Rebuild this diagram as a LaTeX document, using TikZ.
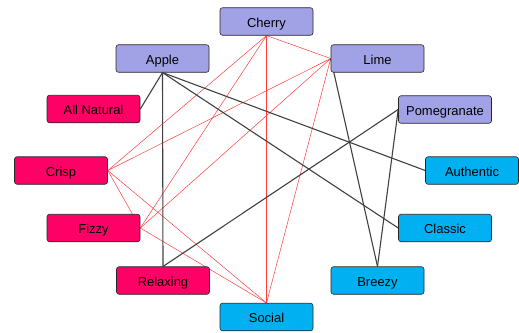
\documentclass[tikz,border=0pt]{standalone}
\usepackage{fontspec}
\setmainfont{Liberation Sans}
\usetikzlibrary{backgrounds}
\begin{document}
\begin{tikzpicture}[x=1bp,y=-1bp,
  box/.style={draw=black!85, line width=0.6bp, rounded corners=2.5bp,
    minimum width=93bp, minimum height=27.5bp, inner sep=0pt,
    text height=11bp, text depth=0bp,
    font=\fontsize{13}{15}\selectfont},
  fruit/.style={box, fill=fruitfill},
  trait/.style={box, fill=traitfill},
  mood/.style={box, fill=moodfill},
  strong/.style={draw=black!75, line width=1.1bp},
  weak/.style={draw=linkred, line width=0.5bp}]
\definecolor{fruitfill}{RGB}{161,161,230}
\definecolor{traitfill}{RGB}{255,0,102}
\definecolor{moodfill}{RGB}{0,176,240}
\definecolor{linkred}{RGB}{255,60,60}
\useasboundingbox (0,0) rectangle (519,332);

% nodes
\node[fruit] (cherry) at (266.5,21.5) {Cherry};
\node[fruit] (apple) at (162.5,58.5) {Apple};
\node[fruit] (lime) at (377.5,58.5) {Lime};
\node[fruit] (pome) at (445,109.5) {Pomegranate};
\node[trait] (natural) at (93.5,109) {All Natural};
\node[mood] (authentic) at (472,170.5) {Authentic};
\node[trait] (crisp) at (61,170.5) {Crisp};
\node[trait] (fizzy) at (93.5,228) {Fizzy};
\node[mood] (classic) at (445,228) {Classic};
\node[trait] (relaxing) at (163,280.5) {Relaxing};
\node[mood] (breezy) at (377.5,280.5) {Breezy};
\node[mood] (social) at (266.5,317) {Social};

% connectors, behind the boxes
\begin{scope}[on background layer]
  \draw[weak] (cherry.south) -- (crisp.east);
  \draw[weak] (cherry.south) -- (fizzy.east);
  \draw[weak] (cherry.south) -- (social.north);
  \draw[weak] (cherry.south) -- (lime.west);
  \draw[weak] (lime.west) -- (crisp.east);
  \draw[weak] (lime.west) -- (fizzy.east);
  \draw[weak] (lime.west) -- (social.north);
  \draw[weak] (crisp.east) -- (fizzy.east);
  \draw[weak] (crisp.east) -- (social.north);
  \draw[weak] (fizzy.east) -- (social.north);
  \draw[strong] (apple.south) -- (natural.east);
  \draw[strong] (apple.south) -- (relaxing.north);
  \draw[strong] (apple.south) -- (authentic.west);
  \draw[strong] (apple.south) -- (classic.west);
  \draw[strong] (lime.west) -- (breezy.north);
  \draw[strong] (pome.west) -- (breezy.north);
  \draw[strong] (pome.west) -- (relaxing.north);
\end{scope}
\end{tikzpicture}
\end{document}
